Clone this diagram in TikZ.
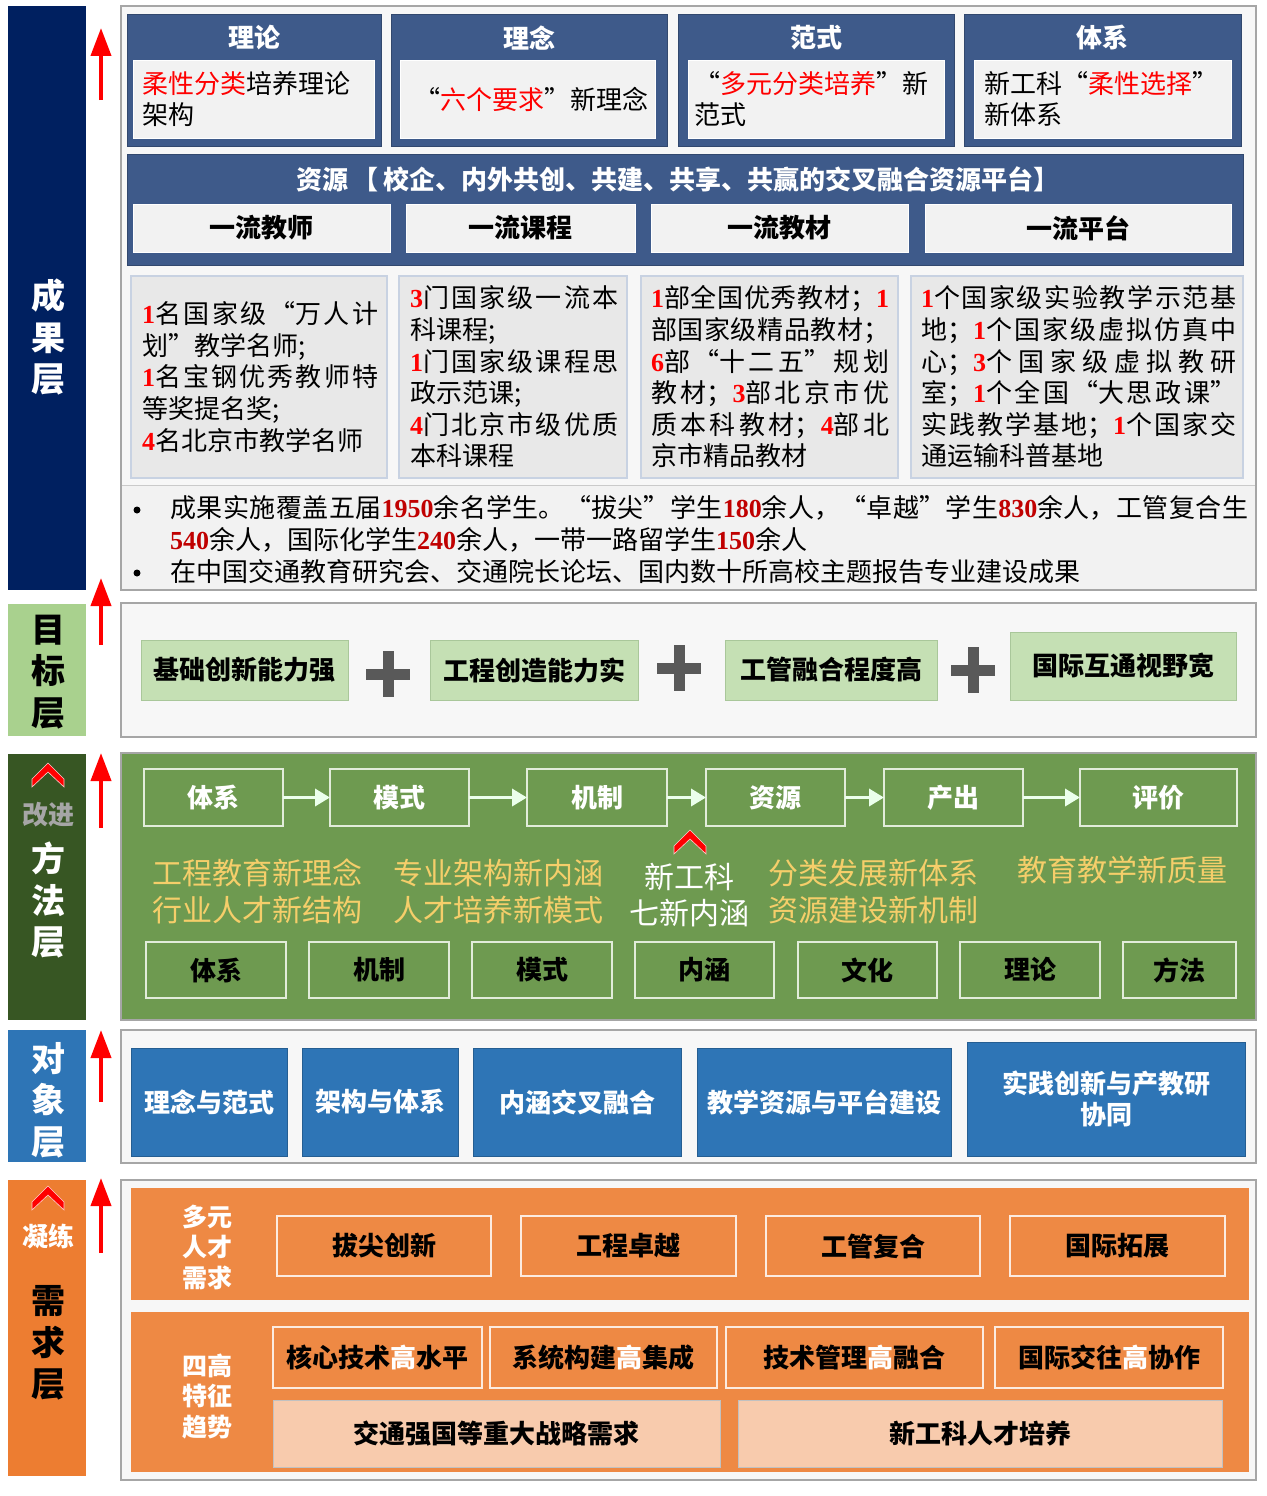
\documentclass[tikz,border=0pt]{standalone}
\usepackage{fontspec}
\setmainfont{Noto Sans CJK SC}
\newfontfamily\numf{Liberation Serif}
\usetikzlibrary{arrows.meta}
\XeTeXlinebreaklocale "zh"
\XeTeXlinebreakskip=0pt plus 6pt
\tolerance=9999
\definecolor{navy}{HTML}{002060}
\definecolor{slate}{HTML}{3E5A8A}
\definecolor{pale}{HTML}{F2F2F2}
\definecolor{panelbg}{HTML}{F7F7F7}
\definecolor{detail}{HTML}{E8E8E8}
\definecolor{detailb}{HTML}{C8D2E2}
\definecolor{gbar}{HTML}{A9D18E}
\definecolor{gbox}{HTML}{C5E0B4}
\definecolor{gboxb}{HTML}{A9C79A}
\definecolor{mgreen}{HTML}{6E9A50}
\definecolor{mline}{HTML}{E2ECDA}
\definecolor{dgreen}{HTML}{375623}
\definecolor{oblue}{HTML}{2E75B6}
\definecolor{orng}{HTML}{ED7D31}
\definecolor{orband}{HTML}{EE8944}
\definecolor{peach}{HTML}{F8CBAD}
\definecolor{gold}{HTML}{F5CE6A}
\definecolor{plusg}{HTML}{595959}
\definecolor{dred}{HTML}{C00000}
\definecolor{pborder}{HTML}{A6A6A6}
\definecolor{grayt}{HTML}{A6A6A6}
\newcommand\bx[7][]{\node[inner sep=0pt,outer sep=0pt,minimum width={(#5-#3)*1pt},minimum height={(#6-#4)*1pt},#1] (#2) at ({(#3+#5)/2},{(#4+#6)/2}) {#7};}
\newcommand\rn[1]{{\numf\bfseries\color{red}#1}}
\newcommand\dn[1]{{\numf\bfseries\color{dred}#1}}
\begin{document}
\begin{tikzpicture}[x=1pt,y=-1pt,
  panel/.style={draw=pborder,line width=1.5pt,fill=panelbg},
  slatebox/.style={fill=slate,draw=slate!80!black,line width=0.8pt},
  innerbox/.style={fill=pale,draw=white,line width=0.8pt},
  detailbox/.style={fill=detail,draw=detailb,line width=1.2pt},
  tA/.style={font=\fontsize{26}{31}\selectfont\bfseries},
  body/.style={font=\fontsize{26}{31.6}\selectfont,align=left,inner sep=0pt},
  jbody/.style={font=\fontsize{26}{31.6}\selectfont,align=justify,inner sep=0pt,text width=#1},
  lefttxt/.style={font=\fontsize{34}{41.5}\selectfont\bfseries,align=center,inner sep=0pt},
  goalbox/.style={fill=gbox,draw=gboxb,line width=1pt,tA},
  mbox/.style={fill=mgreen,draw=mline,line width=2pt,tA},
  obox/.style={fill=oblue,draw=oblue!80!black,line width=0.6pt,tA,text=white,align=center},
  dbox/.style={fill=orband,draw=white!85!orng,line width=2pt,tA},
  pbox/.style={fill=peach,draw=pborder!70,line width=1pt,tA},
  redarrow/.style={red,line width=4pt,-{Triangle[width=20pt,length=28pt]}},
  whitearrow/.style={white!92!green,line width=3.5pt,-{Triangle[width=17pt,length=15pt]}},
  gtxt/.style={font=\fontsize{30}{34}\selectfont,text=gold,inner sep=0pt},
  wtxt/.style={font=\fontsize{30}{36}\selectfont,text=white,inner sep=0pt,align=center},
  chev/.style={fill=red,draw=white!80!red,line width=0.6pt}
]
\useasboundingbox[fill=white] (0,0) rectangle (1266,1496);

% ---------------- left column ----------------
\bx[fill=navy]{L1}{8}{6}{86}{590}{}
\node[lefttxt,text=white] (L1t) at (48,337) {成\\果\\层};
\bx[fill=gbar]{L2}{8}{604}{86}{736}{}
\node[lefttxt,text=black] (L2t) at (48,672) {目\\标\\层};
\bx[fill=dgreen]{L3}{8}{754}{86}{1020}{}
\fill[chev] (32,779) -- (48,763) -- (64,779) -- (64,787) -- (48,772) -- (32,787) -- cycle;
\node[font=\fontsize{26}{30}\selectfont\bfseries,text=grayt] (L3a) at (48,815) {改进};
\node[lefttxt,text=white] (L3t) at (48,900) {方\\法\\层};
\bx[fill=oblue]{L4}{8}{1030}{86}{1162}{}
\node[lefttxt,text=white] (L4t) at (48,1100) {对\\象\\层};
\bx[fill=orng]{L5}{8}{1180}{86}{1476}{}
\fill[chev] (32,1202) -- (48,1186) -- (64,1202) -- (64,1210) -- (48,1195) -- (32,1210) -- cycle;
\node[font=\fontsize{26}{30}\selectfont\bfseries,text=white] (L5a) at (48,1236) {凝练};
\node[lefttxt,text=black] (L5t) at (48,1343) {需\\求\\层};

% red arrows
\coordinate (a1s) at (101,100); \coordinate (a1e) at (101,28);
\coordinate (a2s) at (101,645); \coordinate (a2e) at (101,578);
\coordinate (a3s) at (101,828); \coordinate (a3e) at (101,753);
\coordinate (a4s) at (101,1102); \coordinate (a4e) at (101,1030);
\coordinate (a5s) at (101,1253); \coordinate (a5e) at (101,1178);
\foreach \i in {1,...,5} {\draw[redarrow] (a\i s) -- (a\i e);}

% ---------------- panel 1: results ----------------
\bx[panel]{P1}{121}{6}{1256}{590}{}
\bx[fill=pale,draw=none]{P1b}{122}{485}{1255}{589}{}
\draw[pborder!60,line width=0.8pt] (P1b.north west) -- (P1b.north east);

\bx[slatebox]{T1}{127}{14}{381}{146}{}
\bx[slatebox]{T2}{391}{14}{667}{146}{}
\bx[slatebox]{T3}{678}{14}{954}{146}{}
\bx[slatebox]{T4}{964}{14}{1241}{146}{}
\node[tA,text=white] (T1t) at (254,38) {理论};
\node[tA,text=white] (T2t) at (529,38) {理念};
\node[tA,text=white] (T3t) at (816,38) {范式};
\node[tA,text=white] (T4t) at (1102,38) {体系};
\bx[innerbox]{T1i}{133}{60}{374}{138}{}
\bx[innerbox]{T2i}{400}{60}{655}{138}{}
\bx[innerbox]{T3i}{688}{60}{944}{138}{}
\bx[innerbox]{T4i}{974}{60}{1231}{138}{}
\node[body,anchor=west] (T1b) at (142,99) {\textcolor{red}{柔性分类}培养理论\\架构};
\node[body] (T2b) at (531,99) {“\textcolor{red}{六个要求}”新理念};
\node[body,anchor=west] (T3b) at (694,99) {“\textcolor{red}{多元分类培养}”新\\范式};
\node[body,anchor=west] (T4b) at (984,99) {新工科“\textcolor{red}{柔性选择}”\\新体系};

\bx[slatebox]{R}{127}{154}{1243}{265}{}
\node[tA,text=white] (Rt) at (678,179) {资源\,【\,校企、内外共创、共建、共享、共赢的交叉融合资源平台】};
\bx[innerbox,tA]{R1}{133}{204}{390}{252}{一流教师}
\bx[innerbox,tA]{R2}{406}{204}{635}{252}{一流课程}
\bx[innerbox,tA]{R3}{651}{204}{908}{252}{一流教材}
\bx[innerbox,tA]{R4}{925}{204}{1231}{252}{一流平台}

\bx[detailbox]{D1}{131}{276}{387}{478}{}
\bx[detailbox]{D2}{399}{276}{627}{478}{}
\bx[detailbox]{D3}{641}{276}{898}{478}{}
\bx[detailbox]{D4}{911}{276}{1243}{478}{}
\node[jbody=236pt,anchor=west] (D1t) at (142,377) {\rn{1}名国家级“万人计\linebreak 划”教学名师;\\\rn{1}名宝钢优秀教师特\linebreak 等奖提名奖;\\\rn{4}名北京市教学名师};
\node[jbody=208pt,anchor=west] (D2t) at (410,377) {\rn{3}门国家级一流本\linebreak 科课程;\\\rn{1}门国家级课程思\linebreak 政示范课;\\\rn{4}门北京市级优质\linebreak 本科课程};
\node[jbody=238pt,anchor=west] (D3t) at (651,377) {\rn{1}部全国优秀教材；\rn{1}\linebreak 部国家级精品教材；\linebreak \rn{6}部“十二五”规划\linebreak 教材；\rn{3}部北京市优\linebreak 质本科教材；\rn{4}部北\linebreak 京市精品教材};
\node[jbody=315pt,anchor=west] (D4t) at (921,377) {\rn{1}个国家级实验教学示范基\linebreak 地；\rn{1}个国家级虚拟仿真中\linebreak 心；\rn{3}个国家级虚拟教研\linebreak 室；\rn{1}个全国“大思政课”\linebreak 实践教学基地；\rn{1}个国家交\linebreak 通运输科普基地};

\node[circle,fill=black,inner sep=0pt,minimum size=7pt] (bu1) at (137,510) {};
\node[circle,fill=black,inner sep=0pt,minimum size=7pt] (bu2) at (137,573) {};
\node[jbody=1078pt,anchor=west] (B1) at (170,524) {成果实施覆盖五届\dn{1950}余名学生。“拔尖”学生\dn{180}余人，“卓越”学生\dn{830}余人，工管复合生\linebreak \dn{540}余人，国际化学生\dn{240}余人，一带一路留学生\dn{150}余人};
\node[body,anchor=west] (B2) at (170,572) {在中国交通教育研究会、交通院长论坛、国内数十所高校主题报告专业建设成果};

% ---------------- panel 2: goals ----------------
\bx[panel]{P2}{121}{603}{1256}{737}{}
\bx[goalbox]{G1}{141}{640}{348}{700}{基础创新能力强}
\bx[goalbox]{G2}{430}{640}{638}{700}{工程创造能力实}
\bx[goalbox]{G3}{725}{640}{937}{700}{工管融合程度高}
\bx[goalbox]{G4}{1010}{632}{1236}{700}{国际互通视野宽}
\foreach \px/\py in {388/674, 679/668, 973/670} {
  \fill[plusg] (\px-22,\py-5.5) rectangle (\px+22,\py+5.5);
  \fill[plusg] (\px-5.5,\py-23) rectangle (\px+5.5,\py+23);
}

% ---------------- panel 3: methods ----------------
\bx[fill=mgreen,draw=pborder,line width=1.5pt]{P3}{121}{753}{1256}{1020}{}
\bx[mbox,text=white]{M1}{144}{769}{283}{826}{体系}
\bx[mbox,text=white]{M2}{330}{769}{469}{826}{模式}
\bx[mbox,text=white]{M3}{527}{769}{667}{826}{机制}
\bx[mbox,text=white]{M4}{706}{769}{845}{826}{资源}
\bx[mbox,text=white]{M5}{884}{769}{1023}{826}{产出}
\bx[mbox,text=white]{M6}{1080}{769}{1237}{826}{评价}
\draw[whitearrow] (M1) -- (M2);
\draw[whitearrow] (M2) -- (M3);
\draw[whitearrow] (M3) -- (M4);
\draw[whitearrow] (M4) -- (M5);
\draw[whitearrow] (M5) -- (M6);
\fill[chev] (674,846) -- (690,830) -- (706,846) -- (706,854) -- (690,839) -- (674,854) -- cycle;
\node[gtxt] (g1) at (257,873) {工程教育新理念};
\node[gtxt] (g2) at (498,873) {专业架构新内涵};
\node[gtxt] (g3) at (873,873) {分类发展新体系};
\node[gtxt] (g4) at (1122,870) {教育教学新质量};
\node[gtxt] (g5) at (257,910) {行业人才新结构};
\node[gtxt] (g6) at (498,910) {人才培养新模式};
\node[gtxt] (g7) at (873,910) {资源建设新机制};
\node[wtxt] (g8) at (689,895) {新工科\\七新内涵};
\bx[mbox]{N1}{146}{942}{286}{998}{体系}
\bx[mbox]{N2}{309}{942}{449}{998}{机制}
\bx[mbox]{N3}{472}{942}{612}{998}{模式}
\bx[mbox]{N4}{635}{942}{774}{998}{内涵}
\bx[mbox]{N5}{798}{942}{937}{998}{文化}
\bx[mbox]{N6}{960}{942}{1100}{998}{理论}
\bx[mbox]{N7}{1123}{942}{1236}{998}{方法}

% ---------------- panel 4: objects ----------------
\bx[panel]{P4}{121}{1030}{1256}{1163}{}
\bx[obox]{O1}{131}{1048}{287}{1156}{理念与范式}
\bx[obox]{O2}{302}{1048}{458}{1156}{架构与体系}
\bx[obox]{O3}{473}{1048}{681}{1156}{内涵交叉融合}
\bx[obox]{O4}{697}{1048}{951}{1156}{教学资源与平台建设}
\bx[obox]{O5}{967}{1042}{1245}{1156}{实践创新与产教研\\协同}

% ---------------- panel 5: demands ----------------
\bx[panel]{P5}{121}{1180}{1256}{1480}{}
\bx[fill=orband]{Q1}{131}{1188}{1249}{1300}{}
\bx[fill=orband]{Q2}{131}{1312}{1249}{1472}{}
\node[text=white,align=center,font=\fontsize{25}{30.5}\selectfont\bfseries] (Q1t) at (207,1247) {多元\\人才\\需求};
\node[text=white,align=center,font=\fontsize{25}{30.5}\selectfont\bfseries] (Q2t) at (207,1396) {四高\\特征\\趋势};
\bx[dbox]{E1}{277}{1216}{491}{1276}{拔尖创新}
\bx[dbox]{E2}{521}{1216}{736}{1276}{工程卓越}
\bx[dbox]{E3}{766}{1216}{980}{1276}{工管复合}
\bx[dbox]{E4}{1010}{1216}{1225}{1276}{国际拓展}
\bx[dbox]{F1}{273}{1327}{482}{1388}{核心技术\textcolor{white}{高}水平}
\bx[dbox]{F2}{490}{1327}{717}{1388}{系统构建\textcolor{white}{高}集成}
\bx[dbox]{F3}{726}{1327}{983}{1388}{技术管理\textcolor{white}{高}融合}
\bx[dbox]{F4}{995}{1327}{1223}{1388}{国际交往\textcolor{white}{高}协作}
\bx[pbox]{H1}{273}{1400}{720}{1467}{交通强国等重大战略需求}
\bx[pbox]{H2}{738}{1400}{1222}{1467}{新工科人才培养}
\end{tikzpicture}
\end{document}
